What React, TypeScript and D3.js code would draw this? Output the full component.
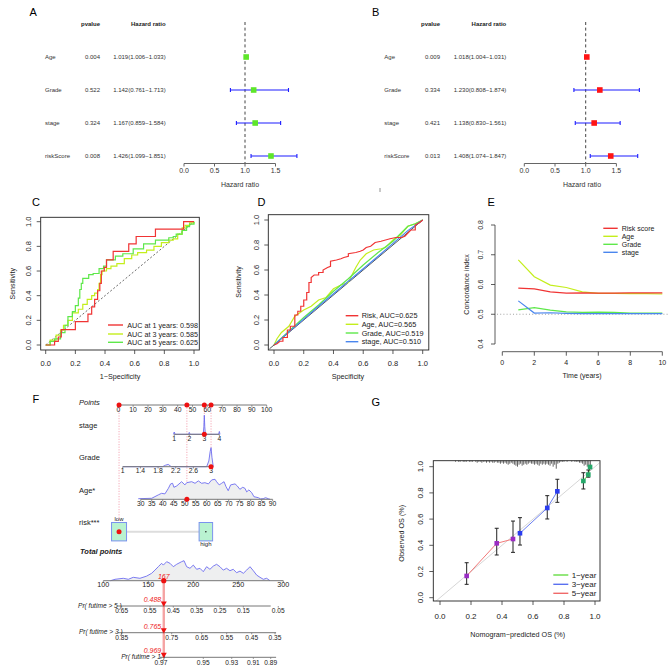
import React from "react";
import * as d3 from "d3";

const FONT = "'Liberation Sans', Arial, Helvetica, sans-serif";

// ---------------- A / B : forest plots ----------------
const forestVars = ["Age", "Grade", "stage", "riskScore"];
const uniP = ["0.004", "0.522", "0.324", "0.008"];
const uniHR = [1.019, 1.142, 1.167, 1.426];
const uniLow = [1.006, 0.761, 0.859, 1.099];
const uniHigh = [1.033, 1.713, 1.584, 1.851];
const multiP = ["0.009", "0.334", "0.421", "0.013"];
const multiHR = [1.018, 1.23, 1.138, 1.408];
const multiLow = [1.004, 0.808, 0.83, 1.074];
const multiHigh = [1.031, 1.874, 1.561, 1.847];
const hrTicks = [0, 0.5, 1.0, 1.5];

// ---------------- C : time ROC ----------------
const unitTicks = [0, 0.2, 0.4, 0.6, 0.8, 1.0];
const rocC1 = [[0,0],[0.06,0],[0.06,0.03],[0.085,0.03],[0.085,0.065],[0.105,0.065],[0.105,0.125],[0.2,0.125],[0.2,0.19],[0.285,0.19],[0.285,0.25],[0.31,0.25],[0.31,0.31],[0.33,0.31],[0.33,0.37],[0.35,0.37],[0.35,0.44],[0.365,0.44],[0.365,0.5],[0.375,0.5],[0.375,0.6],[0.395,0.6],[0.395,0.63],[0.41,0.63],[0.41,0.69],[0.455,0.69],[0.455,0.76],[0.56,0.76],[0.56,0.82],[0.61,0.82],[0.61,0.88],[0.74,0.88],[0.74,0.94],[0.93,0.94],[0.93,1],[1,1]];
const rocC3 = [[0,0],[0.03,0.04],[0.07,0.08],[0.1,0.12],[0.12,0.16],[0.15,0.2],[0.18,0.26],[0.22,0.29],[0.25,0.33],[0.28,0.37],[0.31,0.4],[0.33,0.42],[0.35,0.45],[0.36,0.5],[0.37,0.57],[0.38,0.6],[0.41,0.62],[0.44,0.64],[0.48,0.66],[0.53,0.7],[0.58,0.73],[0.62,0.75],[0.68,0.77],[0.73,0.8],[0.78,0.83],[0.83,0.85],[0.86,0.86],[0.89,0.9],[0.92,0.95],[0.94,0.97],[0.97,0.99],[1,1]];
const rocC5 = [[0,0],[0.03,0.03],[0.06,0.05],[0.1,0.1],[0.13,0.16],[0.15,0.23],[0.18,0.27],[0.2,0.32],[0.22,0.38],[0.23,0.45],[0.24,0.5],[0.25,0.54],[0.29,0.57],[0.32,0.58],[0.36,0.62],[0.39,0.64],[0.41,0.69],[0.47,0.72],[0.52,0.74],[0.59,0.78],[0.66,0.82],[0.74,0.85],[0.83,0.87],[0.86,0.88],[0.88,0.9],[0.92,0.93],[0.95,0.96],[0.97,0.98],[1,1]];
const rocCLabels = ["AUC at 1 years: 0.598", "AUC at 3 years: 0.585", "AUC at 5 years: 0.625"];

// ---------------- D : ROC of factors ----------------
const rocDRisk = [[0,0],[0.02,0.01],[0.04,0.03],[0.06,0.03],[0.06,0.06],[0.09,0.06],[0.09,0.12],[0.11,0.12],[0.11,0.15],[0.14,0.15],[0.14,0.24],[0.16,0.24],[0.16,0.27],[0.18,0.27],[0.18,0.31],[0.2,0.31],[0.2,0.36],[0.22,0.36],[0.22,0.42],[0.235,0.42],[0.235,0.5],[0.25,0.5],[0.25,0.54],[0.27,0.56],[0.3,0.56],[0.3,0.58],[0.33,0.58],[0.33,0.6],[0.36,0.62],[0.38,0.63],[0.38,0.67],[0.42,0.68],[0.45,0.69],[0.47,0.7],[0.5,0.71],[0.5,0.73],[0.55,0.74],[0.58,0.75],[0.6,0.76],[0.62,0.78],[0.65,0.79],[0.68,0.82],[0.72,0.83],[0.75,0.84],[0.78,0.85],[0.82,0.86],[0.86,0.86],[0.88,0.87],[0.92,0.92],[0.95,0.92],[0.95,0.96],[0.98,0.98],[1,1]];
const rocDAge = [[0,0],[0.02,0.05],[0.05,0.1],[0.1,0.15],[0.14,0.23],[0.2,0.28],[0.25,0.31],[0.3,0.36],[0.35,0.38],[0.4,0.45],[0.45,0.48],[0.5,0.5],[0.52,0.55],[0.55,0.62],[0.58,0.68],[0.62,0.73],[0.67,0.76],[0.72,0.77],[0.75,0.78],[0.8,0.84],[0.85,0.88],[0.9,0.95],[0.95,0.97],[1,1]];
const rocDGrade = [[0,0],[0.1,0.11],[0.2,0.22],[0.3,0.32],[0.4,0.43],[0.5,0.53],[0.6,0.64],[0.7,0.74],[0.8,0.83],[0.9,0.95],[0.95,0.97],[1,1]];
const rocDStage = [[0,0],[0.1,0.105],[0.3,0.31],[0.5,0.51],[0.7,0.71],[0.9,0.915],[1,1]];
const rocDLabels = ["Risk, AUC=0.625", "Age, AUC=0.565", "Grade, AUC=0.519", "stage, AUC=0.510"];

// ---------------- E : C-index over time ----------------
const years = [1, 2, 3, 4, 5, 6, 7, 8, 9, 10];
const cRisk = [0.588, 0.585, 0.575, 0.571, 0.572, 0.571, 0.571, 0.572, 0.572, 0.572];
const cAge = [0.683, 0.626, 0.598, 0.59, 0.575, 0.57, 0.57, 0.569, 0.569, 0.568];
const cGrade = [0.515, 0.522, 0.514, 0.508, 0.506, 0.507, 0.506, 0.504, 0.504, 0.504];
const cStage = [0.545, 0.504, 0.505, 0.503, 0.502, 0.502, 0.502, 0.502, 0.502, 0.502];
const eXTicks = [0, 2, 4, 6, 8, 10];
const eYTicks = [0.4, 0.5, 0.6, 0.7, 0.8];
const eLabels = ["Risk score", "Age", "Grade", "stage"];

// ---------------- F : nomogram ----------------
const pointTicks = [0, 10, 20, 30, 40, 50, 60, 70, 80, 90, 100];
const stageTicks = [1, 2, 3, 4];
const stagePtsRange = [37.7, 68.1];
const gradeTicks = [1, 1.4, 1.8, 2.2, 2.6, 3];
const gradePtsRange = [3.0, 62.5];
const ageTicks = [30, 35, 40, 45, 50, 55, 60, 65, 70, 75, 80, 85, 90];
const agePtsRange = [15.1, 104.0];
const riskLevels = ["low", "high"];
const riskPts = [0.5, 59.0];
const totalTicks = [100, 150, 200, 250, 300];
const stageDens = [[0.95,0],[1,0.12],[1.05,0],[1.95,0],[2,0.1],[2.05,0],[2.93,0],[2.97,0.4],[3,1],[3.03,0.4],[3.07,0],[3.95,0],[4,0.15],[4.04,0]];
const gradeDens = [[1,0],[1.9,0],[1.97,0.08],[2.03,0.12],[2.1,0],[2.9,0],[2.95,0.3],[2.98,0.8],[3,1],[3.02,0.5],[3.05,0]];
const ageDens = [[28.9,0.03],[35,0.05],[38,0.22],[39.5,0.3],[41,0.27],[42.6,0.55],[43.6,0.77],[44.5,0.8],[45.1,0.6],[46.4,0.67],[48.6,0.88],[50.1,0.72],[50.9,0.83],[53.2,0.88],[54.7,0.8],[56.2,0.92],[57.7,0.8],[59.2,0.83],[60.8,0.77],[62.3,0.97],[63.8,1.0],[64.5,0.88],[65.7,0.72],[66.8,0.8],[67.9,0.88],[68.8,0.63],[69.8,0.43],[70.9,0.72],[72.9,0.77],[73.9,0.67],[75.1,0.5],[76.4,0.6],[77.4,0.55],[78.2,0.37],[79.2,0.47],[80.5,0.33],[81.5,0.13],[83.5,0.08],[84.5,0.02],[85.7,0.03],[86.8,0.08],[88,0.03],[88.8,0]];
const totalDens = [[108,0],[113,0.07],[122.2,0.12],[127.8,0.07],[133.3,0.17],[140.7,0.12],[148.2,0.23],[153.7,0.37],[157.4,0.53],[161.1,0.7],[164.8,0.87],[166.7,0.78],[170.4,0.95],[174.1,0.87],[177.8,0.7],[181.5,0.82],[187,0.95],[189.7,1.0],[192.6,0.7],[196.3,0.62],[200,0.78],[203.7,0.57],[207.4,0.62],[211.1,0.45],[214.8,0.7],[218.5,0.57],[222.2,0.73],[225.9,0.82],[229.6,0.7],[233.3,0.53],[237,0.62],[240.7,0.5],[244.4,0.57],[248.1,0.4],[251.9,0.48],[255.6,0.37],[259.3,0.53],[263,0.7],[266.7,0.5],[270.4,0.28],[274.1,0.17],[277.8,0.07],[281.5,0.12],[285.2,0]];
const prLabels = ["Pr( futime > 5 )", "Pr( futime > 3 )", "Pr( futime > 1 )"];
const prProbs = [
  ["0.65", "0.55", "0.45", "0.35", "0.25", "0.15", "0.05"],
  ["0.85", "0.75", "0.65", "0.55", "0.45", "0.35"],
  ["0.97", "0.95", "0.93", "0.91", "0.89"],
];
const prTickPts = [
  [120.4, 151.9, 177.8, 203.8, 229.7, 255.6, 294.4],
  [120.4, 176.0, 209.3, 237.1, 264.9, 290.8],
  [164.1, 211.1, 242.7, 266.7, 286.0],
];
const prLineRange = [[115, 286], [116, 292], [163, 292]];
const patient = { stage: 3, grade: 3, age: 51, risk: 0 };
const patientProbs = ["0.488", "0.765", "0.969"];

// ---------------- G : calibration ----------------
const cal1Pred = [0.925, 0.957, 0.968];
const cal1Obs = [0.891, 0.94, 0.998];
const cal1Lo = [0.83, 0.92, 0.985];
const cal1Hi = [0.954, 0.975, 1.0];
const cal3Pred = [0.516, 0.692, 0.757];
const cal3Obs = [0.492, 0.685, 0.812];
const cal3Lo = [0.402, 0.601, 0.728];
const cal3Hi = [0.611, 0.779, 0.904];
const cal5Pred = [0.172, 0.366, 0.471];
const cal5Obs = [0.166, 0.415, 0.448];
const cal5Lo = [0.102, 0.326, 0.346];
const cal5Hi = [0.267, 0.53, 0.585];
const calLabels = ["1\u2212year", "3\u2212year", "5\u2212year"];
const rugStart = 0.1;
const rugCounts = [1,0,1,1,0,1,1,1,0,1, 1,1,0,1,2,1,1,2,1,1, 2,1,2,1,2,2,1,2,2,3, 2,3,2,3,4,3,2,3,4,5, 6,4,3,5,4,3,4,3,2,3, 3,4,3,4,5,3,4,3,4,3, 4,5,3,6,4,8,3,2,1,1, 1,0,1,0,0,1,0,1,1,1, 2,2,3,5,4,6,7,5];

// ---------------- colours ----------------
const RED = "#f03434";
const YGREEN = "#c4ee1c";
const GREEN = "#5ee84a";
const BLUE = "#4a86ee";

const fmt3 = d3.format(".3f");
const fmt1 = d3.format(".1f");

function Letter({ x, y, t }) {
  return <text x={x} y={y} fontSize={11}>{t}</text>;
}

function Forest({ letter, letterX, labelX, pRight, hrRight, x0, x1, titleX, color, pv, hr, lo, hi }) {
  const x = d3.scaleLinear().domain([0, 1.5]).range([x0, x1]);
  const y = d3.scalePoint().domain(forestVars).range([57, 156]);
  const axisY = 163.5;
  return (
    <g>
      <Letter x={letterX} y={16.3} t={letter} />
      <text x={pRight} y={26.2} fontSize={6} fontWeight="bold" textAnchor="end" fill="#222">pvalue</text>
      <text x={hrRight} y={26.2} fontSize={6} fontWeight="bold" textAnchor="end" fill="#222">Hazard ratio</text>
      {forestVars.map((v, i) => (
        <g key={v}>
          <text x={labelX} y={y(v) + 2.2} fontSize={6} fill="#333">{v}</text>
          <text x={pRight} y={y(v) + 2.2} fontSize={6} textAnchor="end" fill="#333">{pv[i]}</text>
          <text x={hrRight} y={y(v) + 2.2} fontSize={6} textAnchor="end" fill="#333">{`${fmt3(hr[i])}(${fmt3(lo[i])}\u2212${fmt3(hi[i])})`}</text>
        </g>
      ))}
      <line x1={x(1)} x2={x(1)} y1={22} y2={axisY} stroke="#444" strokeDasharray="3,2.6" strokeWidth={1} />
      {forestVars.map((v, i) => (
        <g key={v + "m"}>
          <line x1={x(lo[i])} x2={x(hi[i])} y1={y(v)} y2={y(v)} stroke="#1c1cff" strokeWidth={1.1} />
          <line x1={x(lo[i])} x2={x(lo[i])} y1={y(v) - 2} y2={y(v) + 2} stroke="#1c1cff" strokeWidth={1.1} />
          <line x1={x(hi[i])} x2={x(hi[i])} y1={y(v) - 2} y2={y(v) + 2} stroke="#1c1cff" strokeWidth={1.1} />
          <rect x={x(hr[i]) - 2.8} y={y(v) - 2.8} width={5.6} height={5.6} fill={color} />
        </g>
      ))}
      <line x1={x(0)} x2={x(1.5)} y1={axisY} y2={axisY} stroke="#666" />
      {hrTicks.map((t) => (
        <g key={t}>
          <line x1={x(t)} x2={x(t)} y1={axisY} y2={axisY + 3} stroke="#666" />
          <text x={x(t)} y={172.5} fontSize={7} textAnchor="middle" fill="#333">{fmt1(t)}</text>
        </g>
      ))}
      <text x={titleX} y={186.5} fontSize={7} textAnchor="middle" fill="#333">Hazard ratio</text>
    </g>
  );
}

function BottomTicks({ scale, ticks, y, len = 4, labelY, fs = 7.5, fmt = fmt1 }) {
  return (
    <g>
      {ticks.map((t) => (
        <g key={t}>
          <line x1={scale(t)} x2={scale(t)} y1={y} y2={y + len} stroke="#333" strokeWidth={0.8} />
          <text x={scale(t)} y={labelY} fontSize={fs} textAnchor="middle" fill="#222">{fmt(t)}</text>
        </g>
      ))}
    </g>
  );
}

function LeftTicks({ scale, ticks, x, len = 4, labelX, fs = 7.5, fmt = fmt1 }) {
  return (
    <g>
      {ticks.map((t) => (
        <g key={t}>
          <line x1={x} x2={x - len} y1={scale(t)} y2={scale(t)} stroke="#333" strokeWidth={0.8} />
          <text transform={`translate(${labelX + fs * 0.36},${scale(t)}) rotate(-90)`} fontSize={fs} textAnchor="middle" fill="#222">{fmt(t)}</text>
        </g>
      ))}
    </g>
  );
}

function Legend({ x0, x1, tx, ys, colors, labels, fs }) {
  return (
    <g>
      {labels.map((l, i) => (
        <g key={l}>
          <line x1={x0} x2={x1} y1={ys[i]} y2={ys[i]} stroke={colors[i]} strokeWidth={1.4} />
          <text x={tx} y={ys[i] + fs * 0.35} fontSize={fs} fill="#222">{l}</text>
        </g>
      ))}
    </g>
  );
}

function PanelC() {
  const x = d3.scaleLinear().domain([0, 1]).range([45.7, 194]);
  const y = d3.scaleLinear().domain([0, 1]).range([345, 221.7]);
  const lin = d3.line().x((d) => x(d[0])).y((d) => y(d[1]));
  const step = d3.line().x((d) => x(d[0])).y((d) => y(d[1])).curve(d3.curveStepAfter);
  return (
    <g>
      <Letter x={32} y={205.6} t="C" />
      <line x1={x(0)} y1={y(0)} x2={x(1)} y2={y(1)} stroke="#444" strokeDasharray="2,2" strokeWidth={0.8} />
      <path d={step(rocC3)} fill="none" stroke={YGREEN} strokeWidth={1.2} />
      <path d={step(rocC5)} fill="none" stroke={GREEN} strokeWidth={1.2} />
      <path d={lin(rocC1)} fill="none" stroke={RED} strokeWidth={1.2} />
      <rect x={40.7} y={217.3} width={158.6} height={132.7} fill="none" stroke="#222" strokeWidth={0.9} />
      <BottomTicks scale={x} ticks={unitTicks} y={350} labelY={365.5} />
      <LeftTicks scale={y} ticks={unitTicks} x={40.7} labelX={28.3} />
      <text transform={`translate(${12.3 + 2.5},283.7) rotate(-90)`} fontSize={7} textAnchor="middle" fill="#222">Sensitivity</text>
      <text x={120} y={379.2} fontSize={7.2} textAnchor="middle" fill="#222">1{"\u2212"}Specificity</text>
      <Legend x0={108} x1={123} tx={127.3} ys={[325, 334, 342.3]} colors={[RED, YGREEN, GREEN]} labels={rocCLabels} fs={7.2} />
    </g>
  );
}

function PanelD() {
  const x = d3.scaleLinear().domain([0, 1]).range([274, 422.7]);
  const y = d3.scaleLinear().domain([0, 1]).range([345, 220]);
  const lin = d3.line().x((d) => x(d[0])).y((d) => y(d[1]));
  return (
    <g>
      <Letter x={257.5} y={205.6} t="D" />
      <line x1={x(-0.03)} y1={y(-0.03)} x2={x(1)} y2={y(1)} stroke="#555" strokeWidth={1} />
      <path d={lin(rocDAge)} fill="none" stroke={YGREEN} strokeWidth={1.2} />
      <path d={lin(rocDGrade)} fill="none" stroke={GREEN} strokeWidth={1.2} />
      <path d={lin(rocDStage)} fill="none" stroke={BLUE} strokeWidth={1.2} />
      <path d={lin(rocDRisk)} fill="none" stroke={RED} strokeWidth={1.2} />
      <rect x={268.3} y={214.7} width={160.5} height={135.3} fill="none" stroke="#222" strokeWidth={0.9} />
      <BottomTicks scale={x} ticks={unitTicks} y={350} labelY={365.5} />
      <LeftTicks scale={y} ticks={unitTicks} x={268.3} labelX={256.7} />
      <text transform={`translate(${238.3 + 2.5},282) rotate(-90)`} fontSize={7} textAnchor="middle" fill="#222">Sensitivity</text>
      <text x={348} y={378.5} fontSize={7.2} textAnchor="middle" fill="#222">Specificity</text>
      <Legend x0={345.7} x1={358.3} tx={361.7} ys={[315.7, 324.3, 333, 341.7]} colors={[RED, YGREEN, GREEN, BLUE]} labels={rocDLabels} fs={7.3} />
    </g>
  );
}

function PanelE() {
  const x = d3.scaleLinear().domain([0, 10]).range([502.3, 662.3]);
  const y = d3.scaleLinear().domain([0.4, 0.8]).range([344, 225]);
  const mk = (vals) => d3.line().x((d, i) => x(years[i])).y((d) => y(d))(vals);
  return (
    <g>
      <Letter x={487.5} y={205.6} t="E" />
      <line x1={497} x2={669} y1={y(0.5)} y2={y(0.5)} stroke="#999" strokeDasharray="1,2.2" strokeWidth={0.9} />
      <path d={mk(cGrade)} fill="none" stroke={GREEN} strokeWidth={1.2} />
      <path d={mk(cStage)} fill="none" stroke={BLUE} strokeWidth={1.2} />
      <path d={mk(cAge)} fill="none" stroke={YGREEN} strokeWidth={1.2} />
      <path d={mk(cRisk)} fill="none" stroke={RED} strokeWidth={1.2} />
      <line x1={495} x2={495} y1={y(0.4)} y2={y(0.8)} stroke="#333" strokeWidth={0.8} />
      <line x1={x(0)} x2={x(10)} y1={351.7} y2={351.7} stroke="#333" strokeWidth={0.8} />
      <BottomTicks scale={x} ticks={eXTicks} y={351.7} labelY={364.8} fs={7} fmt={(d) => String(d)} />
      <LeftTicks scale={y} ticks={eYTicks} x={495} labelX={480} fs={7} />
      <text transform={`translate(${466.7 + 2.5},284.5) rotate(-90)`} fontSize={7} textAnchor="middle" fill="#222">Concordance index</text>
      <text x={582} y={377.5} fontSize={7} textAnchor="middle" fill="#222">Time (years)</text>
      <Legend x0={603.3} x1={617.7} tx={621.7} ys={[228.3, 236.3, 244.3, 252.3]} colors={[RED, YGREEN, GREEN, BLUE]} labels={eLabels} fs={7} />
    </g>
  );
}

function Density({ data, xf, baseY, h }) {
  const area = d3.area().x((d) => xf(d[0])).y0(baseY).y1((d) => baseY - d[1] * h);
  const top = d3.line().x((d) => xf(d[0])).y((d) => baseY - d[1] * h);
  return (
    <g>
      <path d={area(data)} fill="#eeeff0" />
      <path d={top(data)} fill="none" stroke="#6d6df0" strokeWidth={0.9} />
    </g>
  );
}

function NomoAxis({ xf, ticks, y, fs = 6.8, labelDy = 6.5, fmt = (d) => String(d) }) {
  const ext = d3.extent(ticks);
  return (
    <g>
      <line x1={xf(ext[0])} x2={xf(ext[1])} y1={y} y2={y} stroke="#777" strokeWidth={1} />
      {ticks.map((t) => (
        <g key={t}>
          <line x1={xf(t)} x2={xf(t)} y1={y} y2={y + 1.8} stroke="#777" strokeWidth={0.8} />
          <text x={xf(t)} y={y + labelDy} fontSize={fs} textAnchor="middle" fill="#222">{fmt(t)}</text>
        </g>
      ))}
    </g>
  );
}

function PanelF() {
  const ptsX = d3.scaleLinear().domain([0, 100]).range([118.3, 266.7]);
  const stageP = d3.scaleLinear().domain([1, 4]).range(stagePtsRange);
  const gradeP = d3.scaleLinear().domain([1, 3]).range(gradePtsRange);
  const ageP = d3.scaleLinear().domain([30, 90]).range(agePtsRange);
  const stageX = (v) => ptsX(stageP(v));
  const gradeX = (v) => ptsX(gradeP(v));
  const ageX = (v) => ptsX(ageP(v));
  const totX = d3.scaleLinear().domain([100, 300]).range([103.3, 283.3]);
  const yPts = 405, yStage = 434.3, yGrade = 466.7, yAge = 499.3, yRisk = 531.7, yTot = 580.7;
  const prY = [606, 632.7, 657.3];
  const pStage = stageP(patient.stage);
  const pGrade = gradeP(patient.grade);
  const pAge = ageP(patient.age);
  const pRisk = riskPts[patient.risk];
  const total = pStage + pGrade + pAge + pRisk;
  const tx = totX(total);
  const drops = [
    { p: pRisk, y: yRisk },
    { p: pAge, y: yAge },
    { p: pStage, y: yStage },
    { p: pGrade, y: yGrade },
  ];
  const lbl = { fontSize: 7.5, fill: "#222" };
  const riskX = riskPts.map(ptsX);
  const boxW = [15, 13.5];
  return (
    <g>
      <Letter x={32.5} y={403.3} t="F" />
      {drops.map((d, i) => (
        <line key={i} x1={ptsX(d.p)} x2={ptsX(d.p)} y1={yPts} y2={d.y} stroke="#f4a0b0" strokeDasharray="1.2,1.4" strokeWidth={0.9} />
      ))}
      <text x={79} y={404.8} {...lbl} fontStyle="italic">Points</text>
      <NomoAxis xf={ptsX} ticks={pointTicks} y={yPts} labelDy={6.8} />
      <text x={79} y={427.5} {...lbl}>stage</text>
      <Density data={stageDens} xf={stageX} baseY={yStage} h={19} />
      <NomoAxis xf={stageX} ticks={stageTicks} y={yStage} labelDy={6.3} />
      <text x={79} y={460} {...lbl}>Grade</text>
      <Density data={gradeDens} xf={gradeX} baseY={yGrade} h={19} />
      <NomoAxis xf={gradeX} ticks={gradeTicks} y={yGrade} labelDy={6.5} />
      <text x={79} y={492.5} {...lbl}>Age*</text>
      <Density data={ageDens} xf={ageX} baseY={yAge} h={20} />
      <NomoAxis xf={ageX} ticks={ageTicks} y={yAge} labelDy={6.5} />
      <text x={79} y={525} {...lbl}>risk***</text>
      <line x1={riskX[0] + boxW[0] / 2} x2={riskX[1] - boxW[1] / 2} y1={yRisk} y2={yRisk} stroke="#dddddd" strokeWidth={2} />
      {riskLevels.map((r, i) => (
        <rect key={r} x={riskX[i] - boxW[i] / 2} y={yRisk - 9.2} width={boxW[i]} height={18.4} fill="#b9f2d0" stroke="#7a92ee" strokeWidth={1} />
      ))}
      <text x={riskX[0]} y={521.3} fontSize={6} textAnchor="middle" fill="#222">{riskLevels[0]}</text>
      <text x={riskX[1]} y={546.3} fontSize={6} textAnchor="middle" fill="#222">{riskLevels[1]}</text>
      <circle cx={riskX[1]} cy={yRisk} r={0.8} fill="#222" />
      {drops.map((d, i) => (
        <g key={"dot" + i}>
          <circle cx={ptsX(d.p)} cy={yPts} r={2.5} fill="#ee1111" />
          <circle cx={ptsX(d.p)} cy={d.y} r={2.5} fill="#ee1111" />
        </g>
      ))}
      <text x={80} y={553.5} fontSize={7.5} fontWeight="bold" fontStyle="italic" fill="#222">Total points</text>
      <Density data={totalDens} xf={totX} baseY={yTot} h={20} />
      <NomoAxis xf={totX} ticks={totalTicks} y={yTot} labelDy={5.8} fs={7.2} />
      <line x1={tx} x2={tx} y1={yTot} y2={prY[2]} stroke="#f5a3a3" strokeWidth={2.4} />
      <circle cx={tx} cy={yTot} r={2.6} fill="#ee1111" />
      <text x={tx} y={579} fontSize={7} fontStyle="italic" textAnchor="middle" fill="#ee2222">{Math.round(total)}</text>
      {prLabels.map((l, i) => {
        const a = totX(prLineRange[i][0]);
        const b = totX(prLineRange[i][1]);
        return (
          <g key={l}>
            <line x1={a} x2={b} y1={prY[i]} y2={prY[i]} stroke="#777" strokeWidth={1} />
            {prProbs[i].map((p, j) => (
              <g key={p}>
                <line x1={totX(prTickPts[i][j])} x2={totX(prTickPts[i][j])} y1={prY[i]} y2={prY[i] + 1.6} stroke="#777" strokeWidth={0.8} />
                <text x={totX(prTickPts[i][j])} y={prY[i] + 7.2} fontSize={6.6} textAnchor="middle" fill="#222">{p}</text>
              </g>
            ))}
            <text x={a + 5} y={prY[i] + 1.6} fontSize={6.6} fontStyle="italic" textAnchor="end" fill="#222">{l}</text>
            <path d={`M${tx - 3},${prY[i] - 4.5}L${tx + 3},${prY[i] - 4.5}L${tx},${prY[i] + 0.8}Z`} fill="#ee1111" />
            <text x={tx - 2.5} y={prY[i] - 4} fontSize={7} fontStyle="italic" textAnchor="end" fill="#ee2222">{patientProbs[i]}</text>
          </g>
        );
      })}
    </g>
  );
}

function CalSeries({ x, y, pred, obs, lo, hi, lineColor, markColor }) {
  const pts = pred.map((p, i) => [p, obs[i]]);
  const ln = d3.line().x((d) => x(d[0])).y((d) => y(d[1]));
  return (
    <g>
      <path d={ln(pts)} fill="none" stroke={lineColor} strokeWidth={1} />
      {pred.map((p, i) => (
        <g key={i}>
          <line x1={x(p)} x2={x(p)} y1={y(lo[i])} y2={y(hi[i])} stroke="#222" strokeWidth={1} />
          <line x1={x(p) - 2} x2={x(p) + 2} y1={y(lo[i])} y2={y(lo[i])} stroke="#222" strokeWidth={1} />
          <line x1={x(p) - 2} x2={x(p) + 2} y1={y(hi[i])} y2={y(hi[i])} stroke="#222" strokeWidth={1} />
          <rect x={x(p) - 2.3} y={y(obs[i]) - 2.3} width={4.6} height={4.6} fill={markColor} />
        </g>
      ))}
    </g>
  );
}

function PanelG() {
  const x = d3.scaleLinear().domain([0, 1]).range([440, 595]);
  const y = d3.scaleLinear().domain([0, 1]).range([597.7, 466.7]);
  const box = { x0: 433.3, x1: 600, y0: 460.7, y1: 601 };
  const bins = rugCounts.map((c, i) => ({ v: rugStart + i * 0.01, c }));
  return (
    <g>
      <Letter x={371.5} y={405.6} t="G" />
      <defs>
        <clipPath id="gclip"><rect x={box.x0} y={box.y0} width={box.x1 - box.x0} height={box.y1 - box.y0} /></clipPath>
      </defs>
      <line x1={x(-0.1)} y1={y(-0.1)} x2={x(1.1)} y2={y(1.1)} stroke="#d6d6d6" strokeWidth={1} clipPath="url(#gclip)" />
      {bins.map((b, i) => (
        <line key={i} x1={x(b.v)} x2={x(b.v)} y1={box.y0} y2={box.y0 + b.c * 1.0} stroke="#222" strokeWidth={0.7} />
      ))}
      <CalSeries x={x} y={y} pred={cal5Pred} obs={cal5Obs} lo={cal5Lo} hi={cal5Hi} lineColor="#f27a7a" markColor="#9a2cc4" />
      <CalSeries x={x} y={y} pred={cal3Pred} obs={cal3Obs} lo={cal3Lo} hi={cal3Hi} lineColor="#6a7ff0" markColor="#2a3cf0" />
      <CalSeries x={x} y={y} pred={cal1Pred} obs={cal1Obs} lo={cal1Lo} hi={cal1Hi} lineColor="#66dd44" markColor="#26a86a" />
      <rect x={box.x0} y={box.y0} width={box.x1 - box.x0} height={box.y1 - box.y0} fill="none" stroke="#222" strokeWidth={0.9} />
      <BottomTicks scale={x} ticks={unitTicks} y={box.y1} labelY={618.9} fs={8} />
      <LeftTicks scale={y} ticks={unitTicks} x={box.x0} labelX={420} fs={8} />
      <text x={517.7} y={636.5} fontSize={7.2} textAnchor="middle" fill="#222">Nomogram{"\u2212"}predicted OS (%)</text>
      <text transform={`translate(${401.7 + 2.6},533.3) rotate(-90)`} fontSize={7.2} textAnchor="middle" fill="#222">Observed OS (%)</text>
      <Legend x0={553.3} x1={568.3} tx={571.7} ys={[575, 584.3, 593.3]} colors={["#66dd44", "#5a70f0", "#f06a6a"]} labels={calLabels} fs={8} />
    </g>
  );
}

export default function App() {
  return (
    <svg width={669} height={669} viewBox="0 0 669 669" fontFamily={FONT} style={{ position: "absolute", left: 0, top: 0, background: "#fff" }}>
      <rect width={669} height={669} fill="#fff" />
      <Forest letter="A" letterX={29.5} labelX={45} pRight={100} hrRight={165.7} x0={184} x1={275.5} titleX={240} color="#5ee62a" pv={uniP} hr={uniHR} lo={uniLow} hi={uniHigh} />
      <Forest letter="B" letterX={372} labelX={384.3} pRight={440} hrRight={506.3} x0={524.3} x1={616.4} titleX={582} color="#ff1414" pv={multiP} hr={multiHR} lo={multiLow} hi={multiHigh} />
      <line x1={380} x2={380} y1={188} y2={192} stroke="#777" strokeWidth={0.8} />
      <PanelC />
      <PanelD />
      <PanelE />
      <PanelF />
      <PanelG />
    </svg>
  );
}
